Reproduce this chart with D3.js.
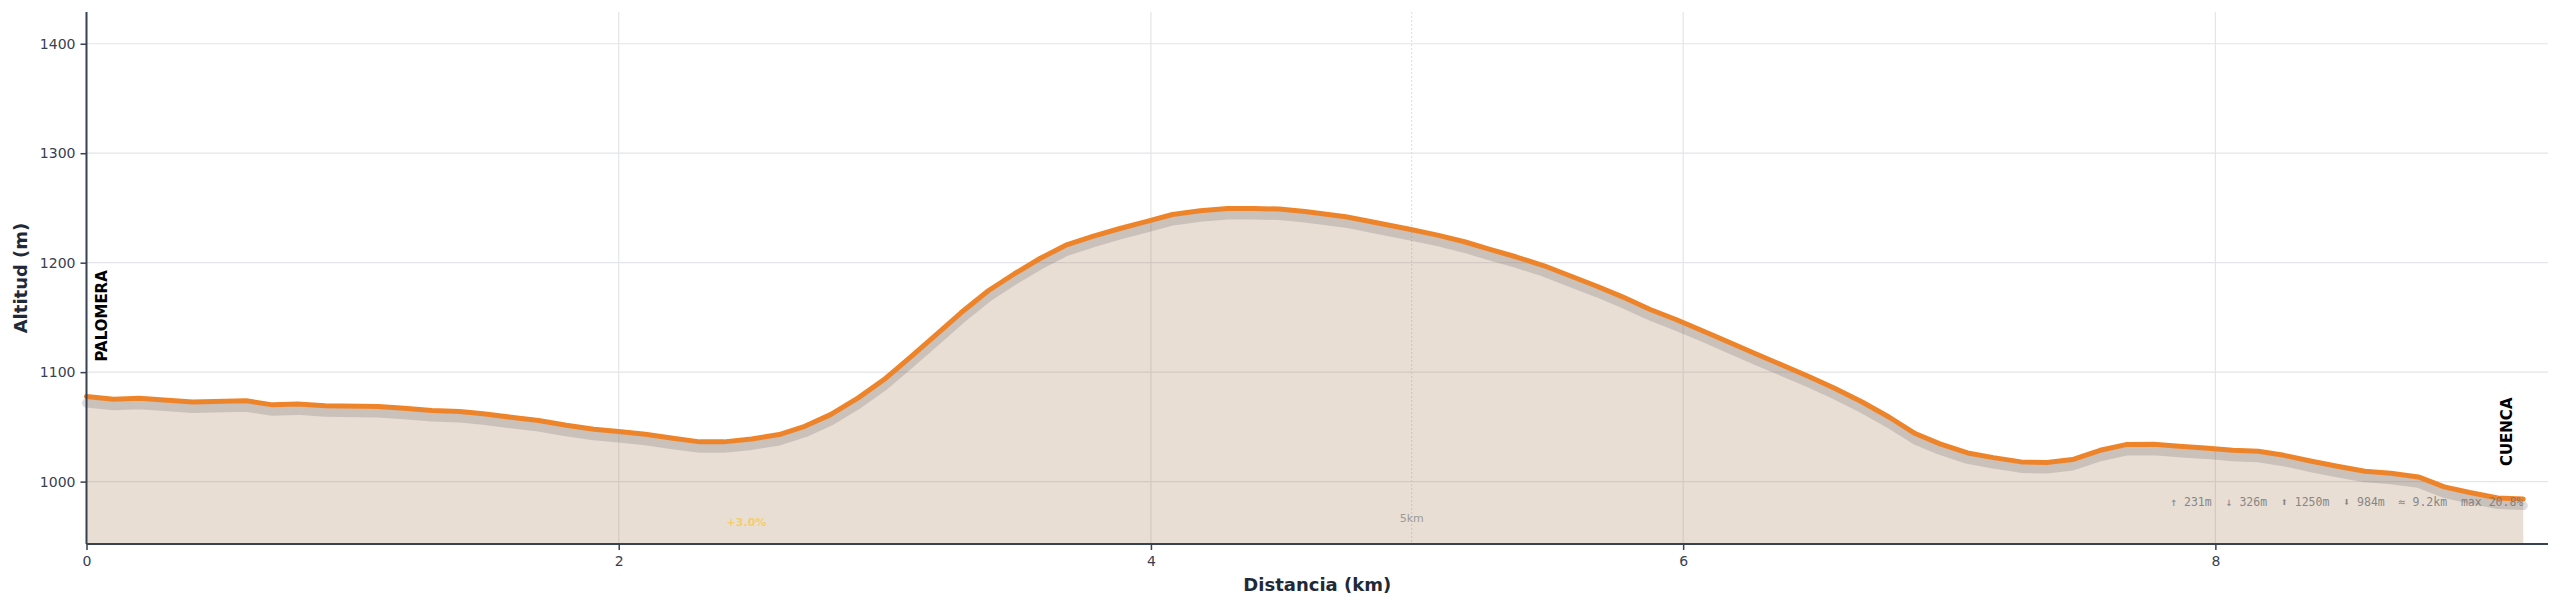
<!DOCTYPE html>
<html>
<head>
<meta charset="utf-8">
<script src="https://cdn.jsdelivr.net/npm/d3@7"></script>
<style>
  body { margin: 0; background: #fff; }
  text { font-family: "DejaVu Sans", sans-serif; }
</style>
</head>
<body>
<script>
// route profile: distance (km) and altitude (m)
const distKm = [0.000, 0.102, 0.198, 0.399, 0.600, 0.699, 0.793, 0.897, 1.097, 1.194,
  1.298, 1.402, 1.491, 1.595, 1.699, 1.803, 1.907, 2.000, 2.100, 2.204,
  2.305, 2.395, 2.499, 2.603, 2.699, 2.796, 2.900, 2.997, 3.093, 3.190,
  3.286, 3.390, 3.487, 3.583, 3.680, 3.784, 3.880, 3.985, 4.081, 4.185,
  4.289, 4.386, 4.482, 4.579, 4.732, 4.829, 4.977, 5.081, 5.178, 5.274,
  5.371, 5.475, 5.572, 5.676, 5.772, 5.876, 5.973, 6.077, 6.173, 6.270,
  6.374, 6.470, 6.567, 6.671, 6.775, 6.872, 6.965, 7.069, 7.166, 7.270,
  7.367, 7.463, 7.567, 7.664, 7.768, 7.864, 7.961, 8.065, 8.161, 8.258,
  8.362, 8.458, 8.562, 8.659, 8.763, 8.860, 8.956, 9.061, 9.157]
const altM = [1077.7, 1075.2, 1076.1, 1072.8, 1073.8, 1070.1, 1071.0, 1069.2, 1068.6, 1067.0,
  1064.9, 1064.0, 1061.9, 1058.8, 1055.8, 1051.5, 1047.8, 1045.7, 1043.2, 1039.6,
  1036.3, 1036.3, 1039.0, 1043.0, 1050.5, 1061.2, 1076.5, 1093.2, 1113.1, 1133.5,
  1154.2, 1174.6, 1189.9, 1203.8, 1216.0, 1224.2, 1231.0, 1237.7, 1244.0, 1247.4,
  1249.5, 1249.5, 1249.0, 1246.8, 1242.0, 1237.4, 1230.3, 1224.9, 1219.1, 1212.1,
  1205.4, 1197.4, 1188.3, 1178.5, 1168.8, 1157.2, 1148.1, 1137.4, 1127.3, 1117.0,
  1106.3, 1096.3, 1085.6, 1072.9, 1058.8, 1043.9, 1034.5, 1026.2, 1021.9, 1018.0,
  1017.4, 1020.1, 1028.6, 1033.8, 1034.1, 1032.3, 1030.8, 1028.6, 1027.7, 1024.0,
  1018.6, 1014.0, 1009.4, 1007.6, 1004.3, 995.2, 990.0, 985.0, 984.0]

const xTicks = [0, 2, 4, 6, 8]
const yTicks = [1000, 1100, 1200, 1300, 1400]
const places = ['PALOMERA', 'CUENCA']
const kmMarks = [{ km: 4.98, label: '5km' }]
const gradeNote = { km: 2.48, text: '+3.0%' }
const stats = '↑ 231m  ↓ 326m  ⬆ 1250m  ⬇ 984m  ≈ 9.2km  max 20.8%'

const w = 2560
const h = 608
const pLeft = 86.5, pRight = 2548, pTop = 12, pBottom = 544

const data = distKm.map((d, i) => ({ km: d, alt: altM[i] }))

const svg = d3.select('body')
    .append('svg')
    .attr('width', w)
    .attr('height', h)

const x = d3.scaleLinear().domain([0, 9.25]).range([pLeft, pRight])
const y = d3.scaleLinear().domain([943, 1429]).range([pBottom, pTop])

// grid
svg.append('g')
    .selectAll('line')
    .data(yTicks)
    .enter()
    .append('line')
    .attr('x1', pLeft).attr('x2', pRight)
    .attr('y1', d => y(d)).attr('y2', d => y(d))
    .style('stroke', '#e4e5e8')
    .style('stroke-width', 1.2)
svg.append('g')
    .selectAll('line')
    .data(xTicks.slice(1))
    .enter()
    .append('line')
    .attr('x1', d => x(d)).attr('x2', d => x(d))
    .attr('y1', pTop).attr('y2', pBottom)
    .style('stroke', '#e4e5e8')
    .style('stroke-width', 1.2)

// km markers
svg.append('g')
    .selectAll('line')
    .data(kmMarks)
    .enter()
    .append('line')
    .attr('x1', d => x(d.km)).attr('x2', d => x(d.km))
    .attr('y1', pTop).attr('y2', pBottom)
    .style('stroke', '#dcdcdc')
    .style('stroke-width', 1)
    .style('stroke-dasharray', '2,2')

// area under profile
const area = d3.area()
    .x(d => x(d.km))
    .y0(pBottom)
    .y1(d => y(d.alt))
svg.append('path')
    .datum(data)
    .attr('d', area)
    .style('fill', 'rgba(166,124,82,0.25)')

const line = d3.line()
    .x(d => x(d.km))
    .y(d => y(d.alt))

// shadow then line
svg.append('path')
    .datum(data)
    .attr('d', line)
    .attr('transform', 'translate(0,6.5)')
    .style('fill', 'none')
    .style('stroke', 'rgba(80,80,90,0.2)')
    .style('stroke-width', 9)
    .style('stroke-linecap', 'round')
    .style('stroke-linejoin', 'round')
svg.append('path')
    .datum(data)
    .attr('d', line)
    .style('fill', 'none')
    .style('stroke', '#ee842a')
    .style('stroke-width', 5)
    .style('stroke-linecap', 'round')
    .style('stroke-linejoin', 'round')

// axes
const xAxis = svg.append('g')
    .attr('transform', `translate(0,${pBottom})`)
    .call(d3.axisBottom(x).tickValues(xTicks).tickSize(6).tickPadding(6))
const yAxis = svg.append('g')
    .attr('transform', `translate(${pLeft},0)`)
    .call(d3.axisLeft(y).tickValues(yTicks).tickFormat(d3.format('d')).tickSize(6).tickPadding(5))
for (const g of [xAxis, yAxis]) {
    g.select('.domain').style('stroke', '#374151').style('stroke-width', 2)
    g.selectAll('.tick line').style('stroke', '#374151').style('stroke-width', 1.5)
    g.selectAll('.tick text')
        .style('font-family', 'DejaVu Sans')
        .style('font-size', '14px')
        .style('fill', '#374151')
}
xAxis.select('.domain').attr('d', `M${pLeft},0H${pRight}`)
yAxis.select('.domain').attr('d', `M0,${pTop}V${pBottom}`)

// axis titles
svg.append('text')
    .attr('x', (pLeft + pRight) / 2)
    .attr('y', 591)
    .attr('text-anchor', 'middle')
    .style('font-size', '18px')
    .style('font-weight', 'bold')
    .style('fill', '#1f2937')
    .text('Distancia (km)')
svg.append('text')
    .attr('transform', `translate(27,${(pTop + pBottom) / 2}) rotate(-90)`)
    .attr('text-anchor', 'middle')
    .style('font-size', '18px')
    .style('font-weight', 'bold')
    .style('fill', '#1f2937')
    .text('Altitud (m)')

// start / end names
const first = data[0], last = data[data.length - 1]
svg.append('text')
    .attr('transform', `translate(${x(first.km) + 20},${y(first.alt) - 35}) rotate(-90)`)
    .style('font-size', '15px')
    .style('font-weight', 'bold')
    .style('fill', '#000')
    .text(places[0])
svg.append('text')
    .attr('transform', `translate(${x(last.km) - 11},${y(last.alt) - 33}) rotate(-90)`)
    .style('font-size', '15px')
    .style('font-weight', 'bold')
    .style('fill', '#000')
    .text(places[1])

// km labels
svg.append('g')
    .selectAll('text')
    .data(kmMarks)
    .enter()
    .append('text')
    .attr('x', d => x(d.km))
    .attr('y', 522)
    .attr('text-anchor', 'middle')
    .style('font-size', '11px')
    .style('fill', '#9a9a9a')
    .text(d => d.label)

// grade note
svg.append('text')
    .attr('x', x(gradeNote.km))
    .attr('y', 526)
    .attr('text-anchor', 'middle')
    .style('font-size', '11px')
    .style('font-weight', 'bold')
    .style('fill', '#f8c948')
    .style('opacity', 0.75)
    .text(gradeNote.text)

// stats
svg.append('text')
    .attr('x', x(last.km))
    .attr('y', 506)
    .attr('text-anchor', 'end')
    .attr('xml:space', 'preserve')
    .style('font-family', '"DejaVu Sans Mono", monospace')
    .style('font-size', '11.5px')
    .style('fill', '#777')
    .style('opacity', 0.85)
    .style('white-space', 'pre')
    .text(stats)
</script>
</body>
</html>
